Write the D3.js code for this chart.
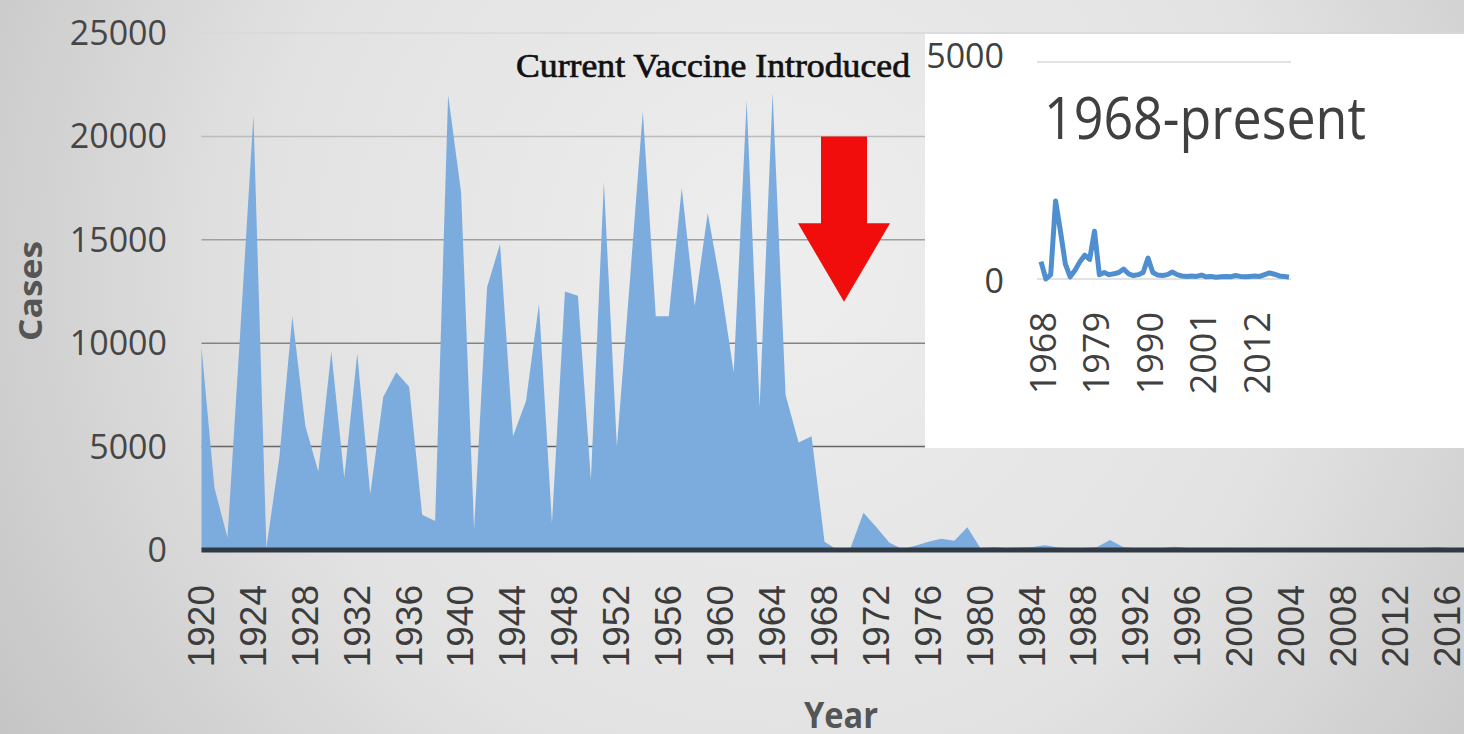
<!DOCTYPE html>
<html>
  <head>
    <meta charset="utf-8">
    <title>Cases by year</title>
    <script src="https://d3js.org/d3.v7.min.js"></script>
    <style>
      html, body { margin: 0; padding: 0; background: #d6d6d6; overflow: hidden; }
    </style>
  </head>
  <body>
    <script>
      // yearly case counts, 1920 onwards
      const firstYear = 1920;
      const cases = [
        9800, 3000, 600, 10700, 21000, 100, 4500, 11300, 6000, 3800,      // 1920s
        9600, 3500, 9500, 2700, 7400, 8600, 7900, 1700, 1400, 22000,      // 1930s
        17300, 1000, 12700, 14800, 5500, 7200, 11900, 1300, 12500, 12300, // 1940s
        3400, 17800, 5000, 13000, 21200, 11300, 11300, 17500, 11800, 16300, // 1950s
        12800, 8600, 21700, 6900, 22100, 7500, 5200, 5500, 400, 0,        // 1960s
        100, 1800, 1100, 350, 50, 200, 400, 550, 450, 1100,               // 1970s
        100, 150, 100, 120, 150, 230, 120, 80, 100, 150,                  // 1980s
        480, 150, 90, 80, 100, 160, 100, 70, 60, 70,                      // 1990s
        60, 90, 50, 60, 40, 50, 60, 50, 80, 60,                           // 2000s
        50, 60, 70, 60, 100, 140, 110, 70, 60, 40                         // 2010s
      ];
      const xTickYears = [1920, 1924, 1928, 1932, 1936, 1940, 1944, 1948, 1952, 1956,
                          1960, 1964, 1968, 1972, 1976, 1980, 1984, 1988, 1992, 1996,
                          2000, 2004, 2008, 2012, 2016];
      const yTicks = [0, 5000, 10000, 15000, 20000, 25000];
      const insetStart = 1968;
      const insetTickYears = [1968, 1979, 1990, 2001, 2012];
      const insetYTicks = [0, 5000];

      const data = cases.map((v, i) => ({year: firstYear + i, value: v}));
      const insetData = data.filter(d => d.year >= insetStart);

      const W = 1464, H = 734;
      const svg = d3.select("body").append("svg")
          .attr("width", W)
          .attr("height", H);

      // background
      const defs = svg.append("defs");
      const bg = defs.append("radialGradient")
          .attr("id", "bg")
          .attr("gradientUnits", "userSpaceOnUse")
          .attr("cx", 780).attr("cy", 260).attr("r", 950);
      bg.append("stop").attr("offset", 0).attr("stop-color", "#eeeeee");
      bg.append("stop").attr("offset", 0.55).attr("stop-color", "#e2e2e2");
      bg.append("stop").attr("offset", 1).attr("stop-color", "#c2c2c2");
      svg.append("rect").attr("width", W).attr("height", H).attr("fill", "url(#bg)");

      // scales
      const x = d3.scaleLinear()
          .domain([1920, 2019])
          .range([201.5, 201.5 + 99 * 12.98]);
      const y = d3.scaleLinear()
          .domain([0, 25000])
          .range([550, 33]);

      // gridlines (darker towards the bottom)
      const gridColor = d3.scaleLinear().domain([0, 25000]).range(["#4a4a4a", "#d8d8d8"]);
      svg.append("g").selectAll("line")
          .data(yTicks.filter(d => d > 0))
          .join("line")
          .attr("x1", x(1920)).attr("x2", W)
          .attr("y1", d => y(d)).attr("y2", d => y(d))
          .attr("stroke", d => gridColor(d))
          .attr("stroke-width", 1.5);

      // area
      const area = d3.area()
          .x(d => x(d.year))
          .y0(y(0))
          .y1(d => y(d.value));
      svg.append("path")
          .datum(data)
          .attr("d", area)
          .attr("fill", "#7cacdd");

      // baseline
      svg.append("line")
          .attr("x1", x(1920)).attr("x2", W)
          .attr("y1", y(0)).attr("y2", y(0))
          .attr("stroke", "#2f3a45")
          .attr("stroke-width", 5);

      // y tick labels
      svg.append("g").selectAll("text")
          .data(yTicks)
          .join("text")
          .attr("x", 167)
          .attr("y", d => y(d))
          .attr("dy", "0.35em")
          .attr("text-anchor", "end")
          .attr("font-family", "Open Sans")
          .attr("font-size", 34)
          .attr("fill", "#464646")
          .text(d => d);

      // x tick labels
      svg.append("g").selectAll("text")
          .data(xTickYears)
          .join("text")
          .attr("transform", d => `translate(${x(d) - 1},585) rotate(-90)`)
          .attr("dy", "0.36em")
          .attr("text-anchor", "end")
          .attr("font-family", "Liberation Sans")
          .attr("font-size", 37)
          .attr("fill", "#3c3c3c")
          .text(d => d);

      // axis titles
      svg.append("text")
          .attr("transform", "translate(30,291) rotate(-90)")
          .attr("dy", "0.35em")
          .attr("text-anchor", "middle")
          .attr("font-family", "Open Sans")
          .attr("font-weight", "bold")
          .attr("font-size", 33)
          .attr("textLength", 100)
          .attr("lengthAdjust", "spacingAndGlyphs")
          .attr("fill", "#555555")
          .text("Cases");
      svg.append("text")
          .attr("x", 841)
          .attr("y", 728)
          .attr("text-anchor", "middle")
          .attr("font-family", "Open Sans")
          .attr("font-weight", "bold")
          .attr("font-size", 36)
          .attr("textLength", 74)
          .attr("lengthAdjust", "spacingAndGlyphs")
          .attr("fill", "#555555")
          .text("Year");

      // annotation
      svg.append("text")
          .attr("x", 516)
          .attr("y", 77)
          .attr("font-family", "Liberation Serif")
          .attr("font-size", 34)
          .attr("textLength", 394)
          .attr("lengthAdjust", "spacingAndGlyphs")
          .attr("fill", "#111")
          .attr("stroke", "#111")
          .attr("stroke-width", 0.7)
          .text("Current Vaccine Introduced");

      // red arrow
      const ax = x(1969.5);
      const arrow = [
        [ax - 23, y(20000)], [ax + 23, y(20000)], [ax + 23, y(15800)],
        [ax + 46, y(15800)], [ax, y(12000)], [ax - 46, y(15800)], [ax - 23, y(15800)]
      ];
      svg.append("path")
          .attr("d", d3.line()(arrow) + "Z")
          .attr("fill", "#f20d0d");

      // inset
      const inset = svg.append("g");
      inset.append("rect")
          .attr("x", 925).attr("y", 34)
          .attr("width", W - 925).attr("height", 414)
          .attr("fill", "#ffffff");

      const ix = d3.scaleLinear().domain([1968, 2019]).range([1041, 1289]);
      const iy = d3.scaleLinear().domain([0, 5000]).range([279, 62]);

      inset.append("g").selectAll("line")
          .data(insetYTicks)
          .join("line")
          .attr("x1", 1037).attr("x2", 1291)
          .attr("y1", d => iy(d)).attr("y2", d => iy(d))
          .attr("stroke", "#d9d9d9")
          .attr("stroke-width", 1.5);

      inset.append("g").selectAll("text")
          .data(insetYTicks)
          .join("text")
          .attr("x", 1004)
          .attr("y", d => iy(d) - (d > 0 ? 6 : -2))
          .attr("dy", "0.35em")
          .attr("text-anchor", "end")
          .attr("font-family", "Open Sans")
          .attr("font-size", 34)
          .attr("fill", "#404040")
          .text(d => d);

      inset.append("g").selectAll("text")
          .data(insetTickYears)
          .join("text")
          .attr("transform", d => `translate(${ix(d) + 2},312) rotate(-90)`)
          .attr("dy", "0.36em")
          .attr("text-anchor", "end")
          .attr("font-family", "Open Sans")
          .attr("font-size", 36)
          .attr("fill", "#404040")
          .text(d => d);

      inset.append("text")
          .attr("x", 1044)
          .attr("y", 139)
          .attr("font-family", "Open Sans")
          .attr("font-size", 58)
          .attr("textLength", 322)
          .attr("lengthAdjust", "spacingAndGlyphs")
          .attr("fill", "#404040")
          .text("1968-present");

      inset.append("path")
          .datum(insetData)
          .attr("d", d3.line().x(d => ix(d.year)).y(d => iy(d.value)))
          .attr("fill", "none")
          .attr("stroke", "#4f8fd0")
          .attr("stroke-width", 5)
          .attr("stroke-linejoin", "round");
    </script>
  </body>
</html>
